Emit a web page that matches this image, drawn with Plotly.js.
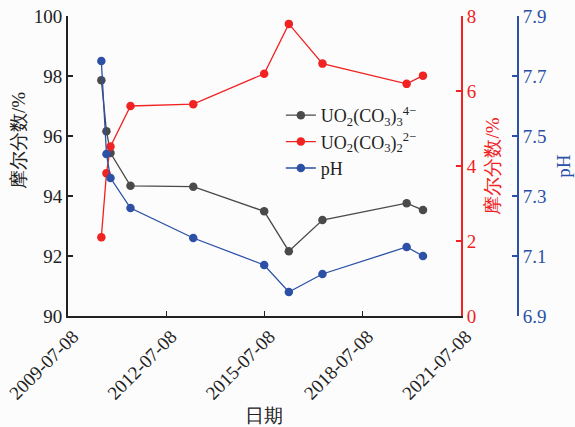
<!DOCTYPE html>
<html>
<head>
<meta charset="utf-8">
<script src="https://cdn.plot.ly/plotly-3.0.1.min.js"></script>
<style>html,body{margin:0;padding:0;background:#fcfcfc;}</style>
</head>
<body>
<div id="chart" style="width:575px;height:427px;"></div>
<script>
const dates = ['2010-07-15','2010-09-10','2010-10-25','2011-06-05','2013-05-05','2015-07-05','2016-04-05','2017-04-15','2019-11-10','2020-05-10'];
const uo2co3_3 = [97.86, 96.16, 95.43, 94.34, 94.31, 93.49, 92.16, 93.20, 93.76, 93.53];
const uo2co3_2 = [2.10, 3.81, 4.52, 5.60, 5.65, 6.46, 7.79, 6.73, 6.19, 6.41];
const ph = [7.75, 7.44, 7.36, 7.26, 7.16, 7.07, 6.98, 7.04, 7.13, 7.10];
const xTickVals = ['2009-07-08','2012-07-08','2015-07-08','2018-07-08','2021-07-08'];
const leftTicks = [90, 92, 94, 96, 98, 100];
const redTicks = [0, 2, 4, 6, 8];
const phTicks = [6.9, 7.1, 7.3, 7.5, 7.7, 7.9];
const phTickText = ['6.9','7.1','7.3','7.5','7.7','7.9'];

const FONT = 'Liberation Serif';
const GRAY = '#4a4a4a', RED = '#f02222', BLUE = '#2b50a6', BLACK = '#222222';

const traces = [
  {x: dates, y: uo2co3_3, name: 'UO<sub>2</sub>(CO<sub>3</sub>)<sub>3</sub><sup>4−</sup>', mode: 'lines+markers',
   line: {color: GRAY, width: 1.3}, marker: {color: GRAY, size: 8.5}, yaxis: 'y'},
  {x: dates, y: uo2co3_2, name: 'UO<sub>2</sub>(CO<sub>3</sub>)<sub>2</sub><sup>2−</sup>', mode: 'lines+markers',
   line: {color: RED, width: 1.3}, marker: {color: RED, size: 8.5}, yaxis: 'y2'},
  {x: dates, y: ph, name: 'pH', mode: 'lines+markers',
   line: {color: BLUE, width: 1.3}, marker: {color: BLUE, size: 8.5}, yaxis: 'y3'}
];

const layout = {
  width: 575, height: 427,
  margin: {l: 68, r: 57, t: 16, b: 111},
  paper_bgcolor: '#fcfcfc', plot_bgcolor: '#fcfcfc',
  font: {family: FONT, size: 19, color: BLACK},
  showlegend: true,
  legend: {x: 0.473, y: 0.73, xanchor: 'left', yanchor: 'top', bgcolor: 'rgba(0,0,0,0)',
           font: {size: 18, family: FONT}, itemwidth: 30, tracegroupgap: 0},
  xaxis: {type: 'date', range: ['2009-07-08','2021-07-08'], domain: [0, 0.8733],
          tickvals: xTickVals, ticktext: xTickVals, tickangle: -45, ticklabelshift: 5,
          ticks: 'inside', ticklen: 5, tickwidth: 1.5, tickcolor: BLACK,
          showline: true, linecolor: BLACK, linewidth: 2, showgrid: false, zeroline: false,
          tickfont: {size: 19, color: BLACK, family: FONT},
          title: {text: '日期', font: {size: 19, color: BLACK, family: FONT}, standoff: 6}},
  yaxis: {range: [90, 100], tickvals: leftTicks, ticks: 'inside', ticklen: 5, tickwidth: 1.5, tickcolor: BLACK,
          showline: true, linecolor: BLACK, linewidth: 2, showgrid: false, zeroline: false,
          tickfont: {size: 19, color: BLACK, family: FONT}},
  yaxis2: {overlaying: 'y', side: 'right', anchor: 'x', range: [0, 8], tickvals: redTicks,
           ticks: 'inside', ticklen: 5, tickwidth: 1.5, tickcolor: RED,
           showline: true, linecolor: RED, linewidth: 2, showgrid: false, zeroline: false,
           tickfont: {size: 19, color: RED, family: FONT},
           title: {text: '摩尔分数/%', font: {size: 19, color: RED, family: FONT}, standoff: 10}},
  yaxis3: {overlaying: 'y', side: 'right', anchor: 'free', position: 1, range: [6.9, 7.9],
           tickvals: phTicks, ticktext: phTickText,
           ticks: 'inside', ticklen: 5, tickwidth: 1.5, tickcolor: BLUE,
           showline: true, linecolor: BLUE, linewidth: 2, showgrid: false, zeroline: false,
           tickfont: {size: 19, color: BLUE, family: FONT},
           title: {text: 'pH', font: {size: 19, color: BLUE, family: FONT}, standoff: 10}},
  annotations: [
    {text: '摩尔分数/%', xref: 'paper', yref: 'paper', x: 0, y: 0.583, xshift: -50,
     xanchor: 'center', yanchor: 'middle', textangle: -90, showarrow: false,
     font: {size: 19, color: BLACK, family: FONT}}
  ]
};

Plotly.newPlot('chart', traces, layout, {displayModeBar: false, staticPlot: true});
</script>
</body>
</html>
